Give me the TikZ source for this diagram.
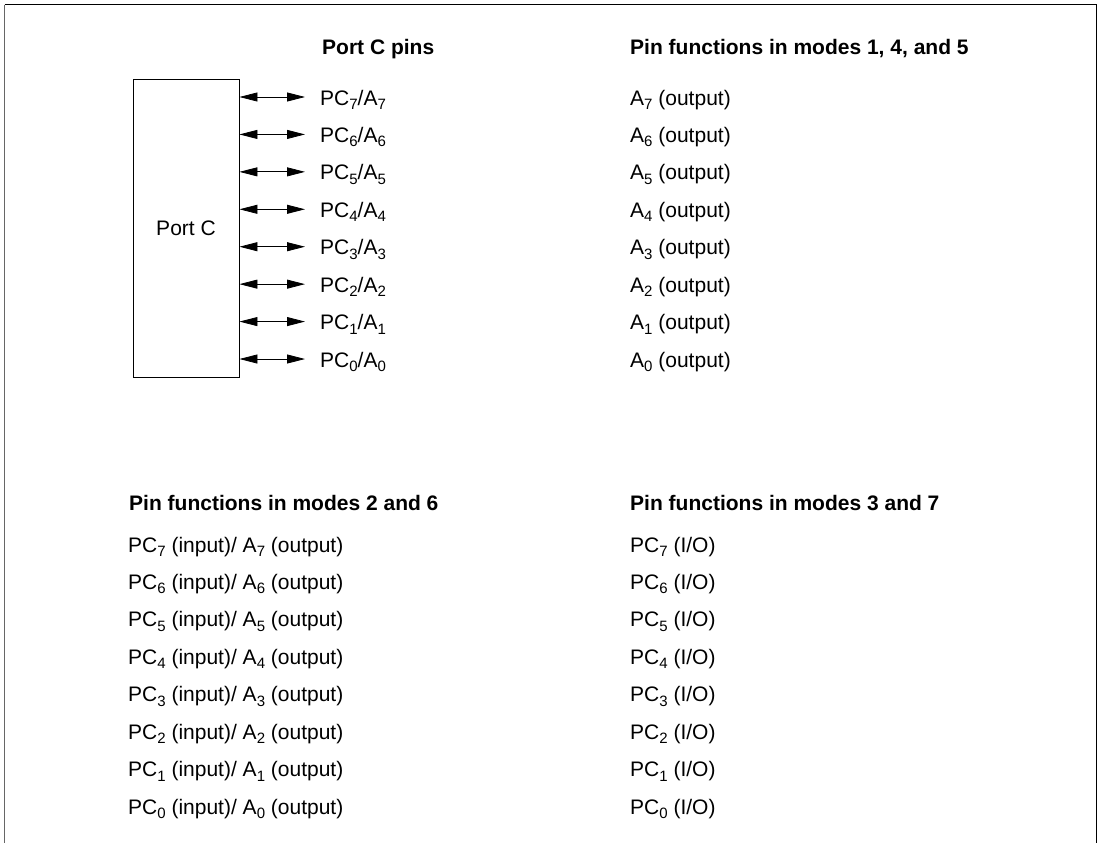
\documentclass[tikz,border=0pt]{standalone}
\usepackage{fontspec}
\setmainfont{Liberation Sans}
\usetikzlibrary{arrows.meta}
\newcommand\lo[1]{\raisebox{-4.5pt}{\fontsize{15}{16}\selectfont #1}}
\begin{document}
\begin{tikzpicture}[x=1pt,y=-1pt,
  txt/.style={anchor=base west, inner sep=0pt, font=\fontsize{21}{24}\selectfont},
  hd/.style={anchor=base west, inner sep=0pt, font=\fontsize{21}{24}\selectfont\bfseries},
  boxst/.style={draw, line width=0.9pt, minimum width=106pt, minimum height=298pt, inner sep=0pt, font=\fontsize{21}{24}\selectfont},
  biarrow/.style={line width=0.8pt, {Triangle[length=18pt,width=9pt]}-{Triangle[length=18pt,width=9pt]}},
  frame/.style={line width=1pt}]
\useasboundingbox (0,0) rectangle (1100,843);
\draw[frame, black!60] (4.5,843) -- (4.5,5);
\draw[frame] (4.5,5) -- (1096,5) -- (1096,843);
% headings
\node[hd] (h1) at (322,55) {Port C pins};
\node[hd] (h2) at (630,55) {Pin functions in modes 1, 4, and 5};
\node[hd] (h3) at (129,510) {Pin functions in modes 2 and 6};
\node[hd] (h4) at (630,510) {Pin functions in modes 3 and 7};
% box
\node[boxst] (portc) at (186,228) {Port C};
% pins
\foreach \i [count=\k from 0] in {7,6,5,4,3,2,1,0} {
  \coordinate (e\i) at (305,{97+37.43*\k});
  \node[txt] (l\i) at (320,{105+37.43*\k}) {PC\lo{\i}/A\lo{\i}};
  \draw[biarrow] (portc.east |- e\i) -- (e\i);
  \node[txt] (m\i) at (630,{105+37.43*\k}) {A\lo{\i} (output)};
  \node[txt] (n\i) at (128,{552+37.43*\k}) {PC\lo{\i} (input)/ A\lo{\i} (output)};
  \node[txt] (o\i) at (630,{552+37.43*\k}) {PC\lo{\i} (I/O)};
}
\end{tikzpicture}
\end{document}
